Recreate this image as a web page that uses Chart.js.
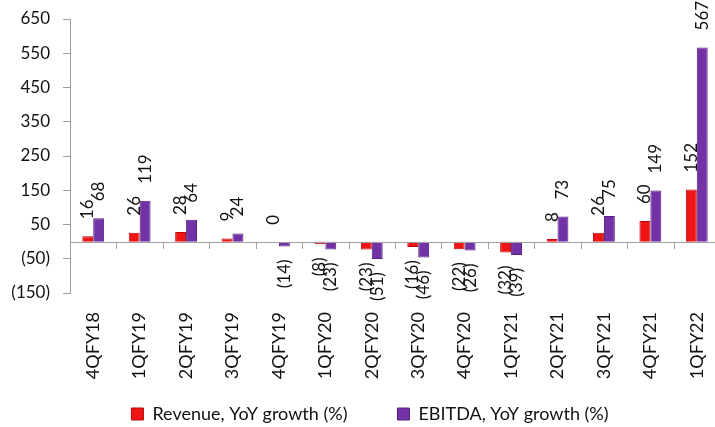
<!DOCTYPE html>
<html>
<head>
<meta charset="utf-8">
<script src="https://cdn.jsdelivr.net/npm/chart.js@4.4.1/dist/chart.umd.min.js"></script>
<style>
  html, body { margin: 0; padding: 0; background: #fff; }
  #wrap { width: 715px; height: 427px; overflow: hidden; position: relative; }
  #chart { display: block; }
</style>
</head>
<body>
<div id="wrap"><canvas id="chart" width="720" height="427"></canvas></div>
<script>
// Quarter labels
const quarters = ['4QFY18', '1QFY19', '2QFY19', '3QFY19', '4QFY19', '1QFY20', '2QFY20',
  '3QFY20', '4QFY20', '1QFY21', '2QFY21', '3QFY21', '4QFY21', '1QFY22'];

// YoY growth (%)
const revenueGrowth = [16, 26, 28, 9, 0, -8, -23, -16, -22, -32, 8, 26, 60, 152];
const ebitdaGrowth = [68, 119, 64, 24, -14, -23, -51, -46, -26, -39, 73, 75, 149, 567];

// y axis ticks
const yMin = -150;
const yMax = 650;
const yStep = 100;

const FONT = 'Lato, "Open Sans", sans-serif';
const AXIS_COLOR = '#a0a0a0';
const LEGEND_PAD = 50;

const fmt = v => (v < 0 ? `(${-v})` : `${v}`);

// zero line + category tick marks (axis crosses at zero, labels stay low)
const zeroAxisPlugin = {
  id: 'zeroAxis',
  afterDatasetsDraw(chart) {
    const { ctx, chartArea } = chart;
    const x = chart.scales.x;
    const y0 = Math.round(chart.scales.y.getPixelForValue(0));
    ctx.save();
    ctx.strokeStyle = AXIS_COLOR;
    ctx.lineWidth = 1;
    ctx.beginPath();
    ctx.moveTo(chartArea.left, y0 + 0.5);
    ctx.lineTo(chartArea.right, y0 + 0.5);
    const step = (chartArea.right - chartArea.left) / quarters.length;
    for (let i = 1; i < quarters.length; i++) {
      const px = Math.round(x.left + step * i) + 0.5;
      ctx.moveTo(px, y0);
      ctx.lineTo(px, y0 + 7);
    }
    ctx.stroke();
    ctx.restore();
  }
};

// rotated value labels at bar ends
const valueLabelPlugin = {
  id: 'valueLabels',
  afterDatasetsDraw(chart) {
    const { ctx } = chart;
    ctx.save();
    ctx.font = `17px ${FONT}`;
    ctx.fillStyle = '#111';
    ctx.textBaseline = 'middle';
    chart.data.datasets.forEach((ds, di) => {
      const meta = chart.getDatasetMeta(di);
      meta.data.forEach((bar, i) => {
        const v = ds.data[i];
        const neg = v < 0;
        ctx.save();
        ctx.translate(bar.x, neg ? bar.y + 13 : bar.y - 17);
        ctx.rotate(-Math.PI / 2);
        ctx.textAlign = neg ? 'right' : 'left';
        ctx.fillText(fmt(v), 0, 0);
        ctx.restore();
      });
    });
    ctx.restore();
  }
};

// wide item spacing needs a big padding; pull the legend back up to its row
const legendShiftPlugin = {
  id: 'legendShift',
  afterLayout(chart) {
    const lg = chart.legend;
    if (!lg) return;
    lg.left += 10;
    lg.right += 10;
    lg.top -= 34;
    lg.bottom = chart.height;
    lg.height = lg.bottom - lg.top;
  }
};

new Chart(document.getElementById('chart'), {
  type: 'bar',
  data: {
    labels: quarters,
    datasets: [
      {
        label: 'Revenue, YoY growth (%)',
        data: revenueGrowth,
        backgroundColor: '#F01414',
        borderColor: '#B80808',
        borderWidth: 1,
        categoryPercentage: 0.47,
        barPercentage: 1
      },
      {
        label: 'EBITDA, YoY growth (%)',
        data: ebitdaGrowth,
        backgroundColor: '#7232A6',
        borderColor: '#55207F',
        borderWidth: 1,
        categoryPercentage: 0.47,
        barPercentage: 1
      }
    ]
  },
  options: {
    responsive: false,
    animation: false,
    layout: { padding: { top: 19, left: 0, right: 0, bottom: 0 } },
    plugins: {
      legend: {
        position: 'bottom',
        maxHeight: 38,
        labels: {
          font: { family: FONT, size: 18 },
          color: '#111',
          boxWidth: 12,
          boxHeight: 12,
          padding: LEGEND_PAD
        }
      },
      tooltip: { enabled: false }
    },
    scales: {
      x: {
        grid: { display: false },
        border: { display: false },
        ticks: {
          font: { family: FONT, size: 18 },
          color: '#111',
          minRotation: 90,
          maxRotation: 90,
          padding: 11,
          autoSkip: false
        },
        afterFit(scale) {
          scale.height = 96;
          scale.paddingLeft = 0;
          scale.paddingRight = 0;
        }
      },
      y: {
        min: yMin,
        max: yMax,
        grid: {
          drawOnChartArea: false,
          drawTicks: true,
          tickLength: 7,
          color: AXIS_COLOR
        },
        border: { color: AXIS_COLOR },
        ticks: {
          stepSize: yStep,
          font: { family: FONT, size: 17 },
          color: '#111',
          padding: 13,
          callback: v => fmt(v)
        },
        afterFit(scale) {
          scale.width = 70;
          scale.paddingTop = 0;
          scale.paddingBottom = 0;
        }
      }
    }
  },
  plugins: [zeroAxisPlugin, valueLabelPlugin, legendShiftPlugin]
});
</script>
</body>
</html>
